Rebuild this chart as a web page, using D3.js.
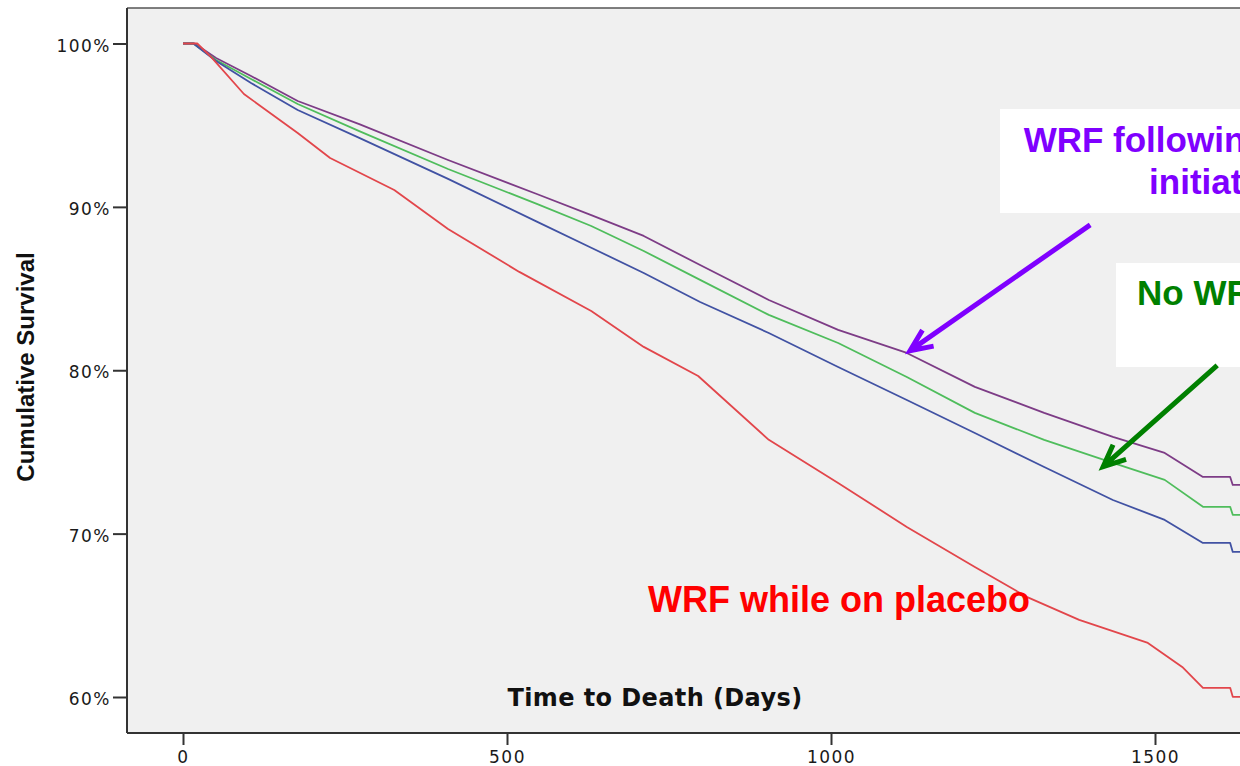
<!DOCTYPE html>
<html lang="en">
<head>
<meta charset="UTF-8">
<script src="https://d3js.org/d3.v7.min.js"></script>
<title>Cumulative Survival</title>
<style>
  body { margin: 0; background: #fff; }
  svg { display: block; }
</style>
</head>
<body>
<svg id="plot"></svg>
<script>
const width = 1240, height = 766;

// days / cumulative survival (%)
const purpleDays = [0, 18, 51, 105, 177, 272, 409, 546, 630, 711, 798, 904, 1011, 1117, 1222, 1329, 1435, 1515, 1574, 1616, 1620, 1680];
const purpleVals = [100, 100, 99.11, 98.01, 96.48, 95.07, 92.87, 90.79, 89.5, 88.22, 86.44, 84.3, 82.47, 81.06, 78.98, 77.39, 75.92, 74.94, 73.47, 73.47, 72.98, 72.98];

const greenDays = [0, 16, 51, 105, 177, 272, 409, 546, 630, 711, 798, 904, 1011, 1117, 1222, 1329, 1435, 1515, 1574, 1616, 1620, 1680];
const greenVals = [100, 100, 98.99, 97.83, 96.3, 94.64, 92.32, 90.18, 88.83, 87.3, 85.53, 83.39, 81.67, 79.59, 77.39, 75.74, 74.33, 73.29, 71.64, 71.64, 71.15, 71.15];

const blueDays = [0, 16, 51, 105, 177, 272, 409, 546, 630, 711, 798, 904, 1011, 1117, 1222, 1329, 1435, 1515, 1574, 1616, 1620, 1680];
const blueVals = [100, 100, 98.93, 97.58, 95.93, 94.22, 91.71, 89.1, 87.5, 85.95, 84.18, 82.28, 80.2, 78.18, 76.16, 74.08, 72.06, 70.84, 69.43, 69.43, 68.88, 68.88];

const redDays = [0, 22, 45, 94, 177, 227, 326, 409, 519, 630, 711, 795, 904, 1011, 1117, 1222, 1302, 1383, 1489, 1542, 1574, 1616, 1620, 1680];
const redVals = [100, 100, 99.11, 96.91, 94.52, 92.99, 91.03, 88.65, 86.02, 83.63, 81.43, 79.65, 75.74, 73.1, 70.41, 67.96, 66.13, 64.72, 63.31, 61.84, 60.56, 60.56, 60.01, 60.01];

const xTicks = [0, 500, 1000, 1500];
const yTicks = [60, 70, 80, 90, 100];

const series = [
  {name: "WRF following enalapril initiation", days: purpleDays, vals: purpleVals, color: "#7d3c86"},
  {name: "No WRF", days: greenDays, vals: greenVals, color: "#4fbd5c"},
  {name: "Other", days: blueDays, vals: blueVals, color: "#4152a3"},
  {name: "WRF while on placebo", days: redDays, vals: redVals, color: "#e2464b"}
];

const plot = {left: 127, top: 8, right: 1320, bottom: 733};

const svg = d3.select("#plot").attr("width", width).attr("height", height);

const x = d3.scaleLinear().domain([0, 1500]).range([183, 1155]);
const y = d3.scaleLinear().domain([60, 100]).range([697, 43.5]);

// plot area
svg.append("rect")
  .attr("x", plot.left).attr("y", plot.top)
  .attr("width", plot.right - plot.left).attr("height", plot.bottom - plot.top)
  .attr("fill", "#f0f0f0");
svg.append("line")
  .attr("x1", plot.left).attr("x2", plot.right)
  .attr("y1", plot.top).attr("y2", plot.top)
  .attr("stroke", "#555").attr("stroke-width", 1.5);

svg.append("clipPath").attr("id", "clip")
  .append("rect")
  .attr("x", plot.left).attr("y", plot.top)
  .attr("width", plot.right - plot.left).attr("height", plot.bottom - plot.top);

const line = d3.line()
  .x(d => x(d[0]))
  .y(d => y(d[1]));

svg.append("g").attr("clip-path", "url(#clip)")
  .selectAll("path")
  .data(series)
  .join("path")
  .attr("d", s => line(s.days.map((d, i) => [d, s.vals[i]])))
  .attr("fill", "none")
  .attr("stroke", d => d.color)
  .attr("stroke-width", 1.8)
  .attr("stroke-linejoin", "round");

// axes
const xAxis = d3.axisBottom(x).tickValues(xTicks).tickFormat(d3.format("d"))
  .tickSize(12).tickSizeOuter(0).tickPadding(6);
svg.append("g")
  .attr("transform", `translate(0,${plot.bottom})`)
  .call(xAxis)
  .call(g => g.select(".domain").attr("d", `M${plot.left},0H${plot.right}`))
  .call(g => g.selectAll("line, .domain").attr("stroke", "#333").attr("stroke-width", 2))
  .call(g => g.selectAll("text")
    .attr("font-family", "DejaVu Sans").attr("font-size", 17)
    .attr("letter-spacing", 1.5).attr("fill", "#1a1a1a"));

const yAxis = d3.axisLeft(y).tickValues(yTicks).tickSize(14).tickSizeOuter(0).tickPadding(2)
  .tickFormat(d => d + "%");
svg.append("g")
  .attr("transform", `translate(${plot.left},0)`)
  .call(yAxis)
  .call(g => g.select(".domain").attr("d", `M0,${plot.top}V${plot.bottom}`))
  .call(g => g.selectAll("line, .domain").attr("stroke", "#333").attr("stroke-width", 2))
  .call(g => g.selectAll("text")
    .attr("font-family", "DejaVu Sans").attr("font-size", 17)
    .attr("letter-spacing", 1.5).attr("fill", "#1a1a1a").attr("dy", "0.45em"));

// axis titles
svg.append("text")
  .attr("x", 655).attr("y", 706)
  .attr("text-anchor", "middle")
  .attr("font-family", "DejaVu Sans").attr("font-weight", "bold")
  .attr("font-size", 24).attr("letter-spacing", 0.4).attr("fill", "#111")
  .text("Time to Death (Days)");

svg.append("text")
  .attr("transform", "translate(34,367) rotate(-90)")
  .attr("text-anchor", "middle")
  .attr("font-family", "Liberation Sans, Arial").attr("font-weight", "bold")
  .attr("font-size", 24).attr("fill", "#111")
  .text("Cumulative Survival");

// annotations
const annFont = "Liberation Sans, Arial";

svg.append("rect").attr("x", 1000).attr("y", 109).attr("width", 320).attr("height", 104).attr("fill", "#fff");
svg.append("text")
  .attr("text-anchor", "middle")
  .attr("font-family", annFont).attr("font-weight", "bold").attr("font-size", 35).attr("fill", "#7f00ff")
  .selectAll("tspan")
  .data(["WRF following enalapril", "initiation"])
  .join("tspan")
  .attr("x", 1222)
  .attr("y", (d, i) => 152 + i * 42)
  .text(d => d);

svg.append("rect").attr("x", 1116).attr("y", 263).attr("width", 200).attr("height", 104).attr("fill", "#fff");
svg.append("text")
  .attr("x", 1137).attr("y", 305)
  .attr("font-family", annFont).attr("font-weight", "bold").attr("font-size", 35).attr("fill", "#008000")
  .text("No WRF");

svg.append("text")
  .attr("x", 648).attr("y", 612)
  .attr("font-family", annFont).attr("font-weight", "bold").attr("font-size", 36).attr("fill", "#ff0000")
  .text("WRF while on placebo");

// arrows, given in data units [day, %]
const arrows = [
  {from: [1400, 88.9], to: [1122, 81.2], color: "#7f00ff"},
  {from: [1596, 80.3], to: [1420, 74.1], color: "#008000"}
];
arrows.forEach(a => {
  const x0 = x(a.from[0]), y0 = y(a.from[1]);
  const x1 = x(a.to[0]), y1 = y(a.to[1]);
  const ang = Math.atan2(y0 - y1, x0 - x1);
  const len = 24, spread = 24 * Math.PI / 180;
  const b1 = [x1 + len * Math.cos(ang - spread), y1 + len * Math.sin(ang - spread)];
  const b2 = [x1 + len * Math.cos(ang + spread), y1 + len * Math.sin(ang + spread)];
  svg.append("path")
    .attr("d", `M${x0},${y0}L${x1},${y1}M${b1[0]},${b1[1]}L${x1},${y1}L${b2[0]},${b2[1]}`)
    .attr("fill", "none").attr("stroke", a.color)
    .attr("stroke-width", 5).attr("stroke-linecap", "butt").attr("stroke-linejoin", "miter");
});
</script>
</body>
</html>
